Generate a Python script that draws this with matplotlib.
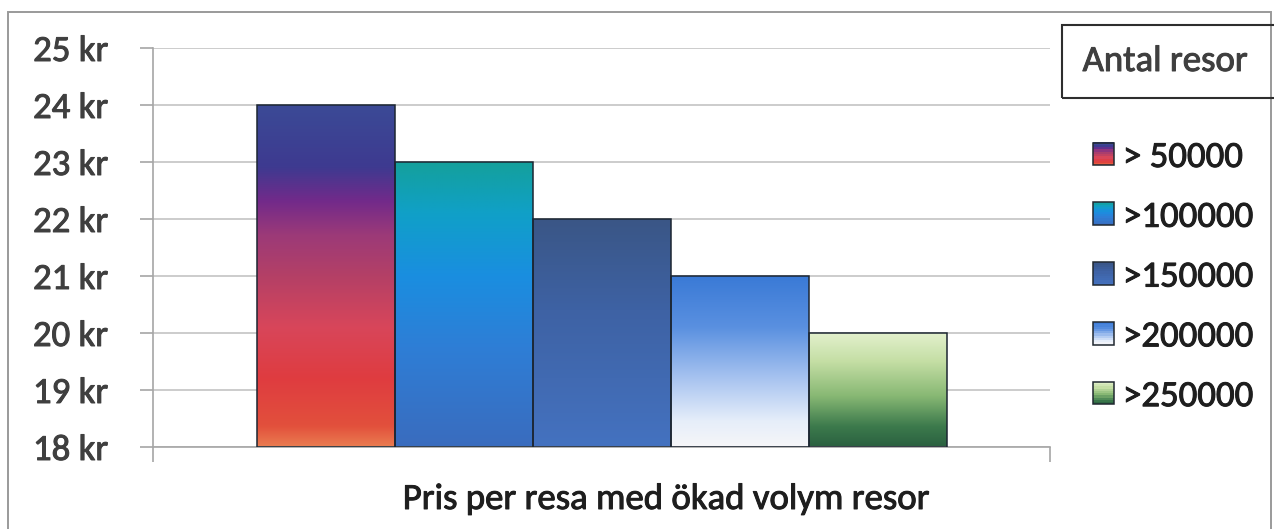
import numpy as np
import matplotlib
matplotlib.use("Agg")
import matplotlib.pyplot as plt
import matplotlib.patheffects as pe
from matplotlib import font_manager
from matplotlib.colors import LinearSegmentedColormap
from matplotlib.patches import Rectangle
from matplotlib.legend_handler import HandlerBase

# a Calibri look-alike if one is installed, else Lato
installed = {f.name for f in font_manager.fontManager.ttflist}
narrow = [n for n in ["Carlito", "Source Sans 3", "Source Sans Pro"] if n in installed]
if narrow:
    plt.rcParams['font.family'] = [narrow[0], 'DejaVu Sans']
    FS, FS_X = 26.5, 26.5
    LEG_SPACING, LEG_TOP = 0.755, 141
else:
    plt.rcParams['font.family'] = ['Lato', 'DejaVu Sans']
    FS, FS_X = 23, 22.5
    LEG_SPACING, LEG_TOP = 1.06, 144

# data
labels = ["> 50000", ">100000", ">150000", ">200000", ">250000"]
prices = [24, 23, 22, 21, 20]
y_ticks = [18, 19, 20, 21, 22, 23, 24, 25]
y_tick_labels = [f"{v} kr" for v in y_ticks]
xlabel = "Pris per resa med ökad volym resor"
legend_title = "Antal resor"

# gradient stops per bar, (position from bottom, colour)
gradients = [
    [(0.0, "#ea7c50"), (0.06, "#e2503c"), (0.2, "#df3c40"), (0.35, "#d8465a"),
     (0.5, "#b44066"), (0.62, "#9c3a78"), (0.72, "#722a8a"), (0.82, "#3e3a90"),
     (1.0, "#3b4a96")],
    [(0.0, "#3a6cbe"), (0.35, "#2e7ed6"), (0.6, "#1a8ee0"), (0.82, "#10a0c8"),
     (1.0, "#14a09c")],
    [(0.0, "#4472c0"), (0.6, "#3e62a4"), (1.0, "#3a5686")],
    [(0.0, "#f6f6f8"), (0.15, "#e6eefa"), (0.4, "#a8c4f0"), (0.7, "#5a90e0"),
     (1.0, "#3a7ad6")],
    [(0.0, "#2a6040"), (0.18, "#3c7a4c"), (0.45, "#88b874"), (0.75, "#c4dea4"),
     (1.0, "#e2f0cc")],
]
cmaps = [LinearSegmentedColormap.from_list(f"g{i}", g) for i, g in enumerate(gradients)]


def heavy(color):
    # scanned print looks a bit bolder than plain regular weight
    return [pe.withStroke(linewidth=0.7, foreground=color)]


W, H = 1274, 529
fig = plt.figure(figsize=(W / 100, H / 100), dpi=100)
fig.patch.set_facecolor("white")

# outer chart border
fig.patches.append(Rectangle((8 / W, -0.1), (1271 - 8) / W, 1.1 - 12 / H,
                             transform=fig.transFigure, fill=False,
                             edgecolor="#9a9a9a", lw=1.4))

ax = fig.add_axes([153 / W, 1 - 447 / H, (1050 - 153) / W, (447 - 48) / H])

x = np.arange(len(prices))
bars = ax.bar(x, np.array(prices) - y_ticks[0], bottom=y_ticks[0], width=1.0,
              facecolor="none", edgecolor="#1c2632", lw=1.1, zorder=3)

grad = np.linspace(0, 1, 256).reshape(-1, 1)
for b, cm in zip(bars, cmaps):
    x0, y0 = b.get_x(), b.get_y()
    im = ax.imshow(grad, cmap=cm, origin="lower", aspect="auto",
                   extent=(x0, x0 + b.get_width(), y0, y0 + b.get_height()),
                   zorder=2, interpolation="bilinear")
    im.set_clip_path(b)

ax.set_xlim(-1.25, len(prices) + 0.25)
ax.set_ylim(y_ticks[0], y_ticks[-1])
ax.set_yticks(y_ticks)
ax.set_yticklabels(y_tick_labels)
ax.set_xticks([-1.25, len(prices) + 0.25])
ax.set_xticklabels(["", ""])
ax.grid(axis="y", color="#c4c4c4", lw=1.2, zorder=0)
ax.set_axisbelow(True)
for s in ["top", "right"]:
    ax.spines[s].set_visible(False)
for s in ["left", "bottom"]:
    ax.spines[s].set_color("#a6a6a6")
    ax.spines[s].set_linewidth(1.2)
ax.tick_params(axis="y", length=9.5, width=1.2, color="#a6a6a6", pad=23,
               labelsize=FS, labelcolor="#3f3f3f")
ax.tick_params(axis="x", length=11, width=1.2, color="#a6a6a6")
for t in ax.get_yticklabels():
    t.set_path_effects(heavy("#3f3f3f"))

# the title sits under the plot, centred on the whole chart area
fig.text(666 / W, 1 - 509 / H, xlabel, ha="center", va="baseline",
         fontsize=FS_X, color="#1e1e1e", path_effects=heavy("#1e1e1e"))


class GradientHandler(HandlerBase):
    def __init__(self, cmap):
        super().__init__()
        self.cmap = cmap

    def create_artists(self, legend, orig_handle, xdescent, ydescent,
                       width, height, fontsize, trans):
        arts = []
        n = 10
        for k in range(n):
            arts.append(Rectangle((-xdescent, -ydescent + height * k / n), width,
                                  height / n + 0.2, facecolor=self.cmap((k + 0.5) / n),
                                  edgecolor="none", transform=trans))
        arts.append(Rectangle((-xdescent, -ydescent), width, height, fill=False,
                              edgecolor="#202830", lw=1.1, transform=trans))
        return arts


fs_px = FS * 100 / 72
handles = [Rectangle((0, 0), 1, 1) for _ in labels]
leg = fig.legend(handles, labels,
                 handler_map={h: GradientHandler(cm) for h, cm in zip(handles, cmaps)},
                 loc="upper left", bbox_to_anchor=(1093 / W, 1 - LEG_TOP / H), frameon=False,
                 fontsize=FS, labelcolor="#1e1e1e", handlelength=21 / fs_px,
                 handleheight=21 / fs_px, handletextpad=9 / fs_px,
                 labelspacing=LEG_SPACING, borderpad=0, borderaxespad=0)
for t in leg.get_texts():
    t.set_path_effects(heavy("#1e1e1e"))

# legend title box
fig.patches.append(Rectangle((1062 / W, 1 - 98 / H), (1280 - 1062) / W, 73 / H,
                             transform=fig.transFigure, fill=False,
                             edgecolor="#2e2e2e", lw=1.5))
fig.text(1165 / W, 1 - 61 / H, legend_title, ha="center", va="center",
         fontsize=FS, color="#3f3f3f", path_effects=heavy("#3f3f3f"))

fig.savefig("out.png", dpi=100)
